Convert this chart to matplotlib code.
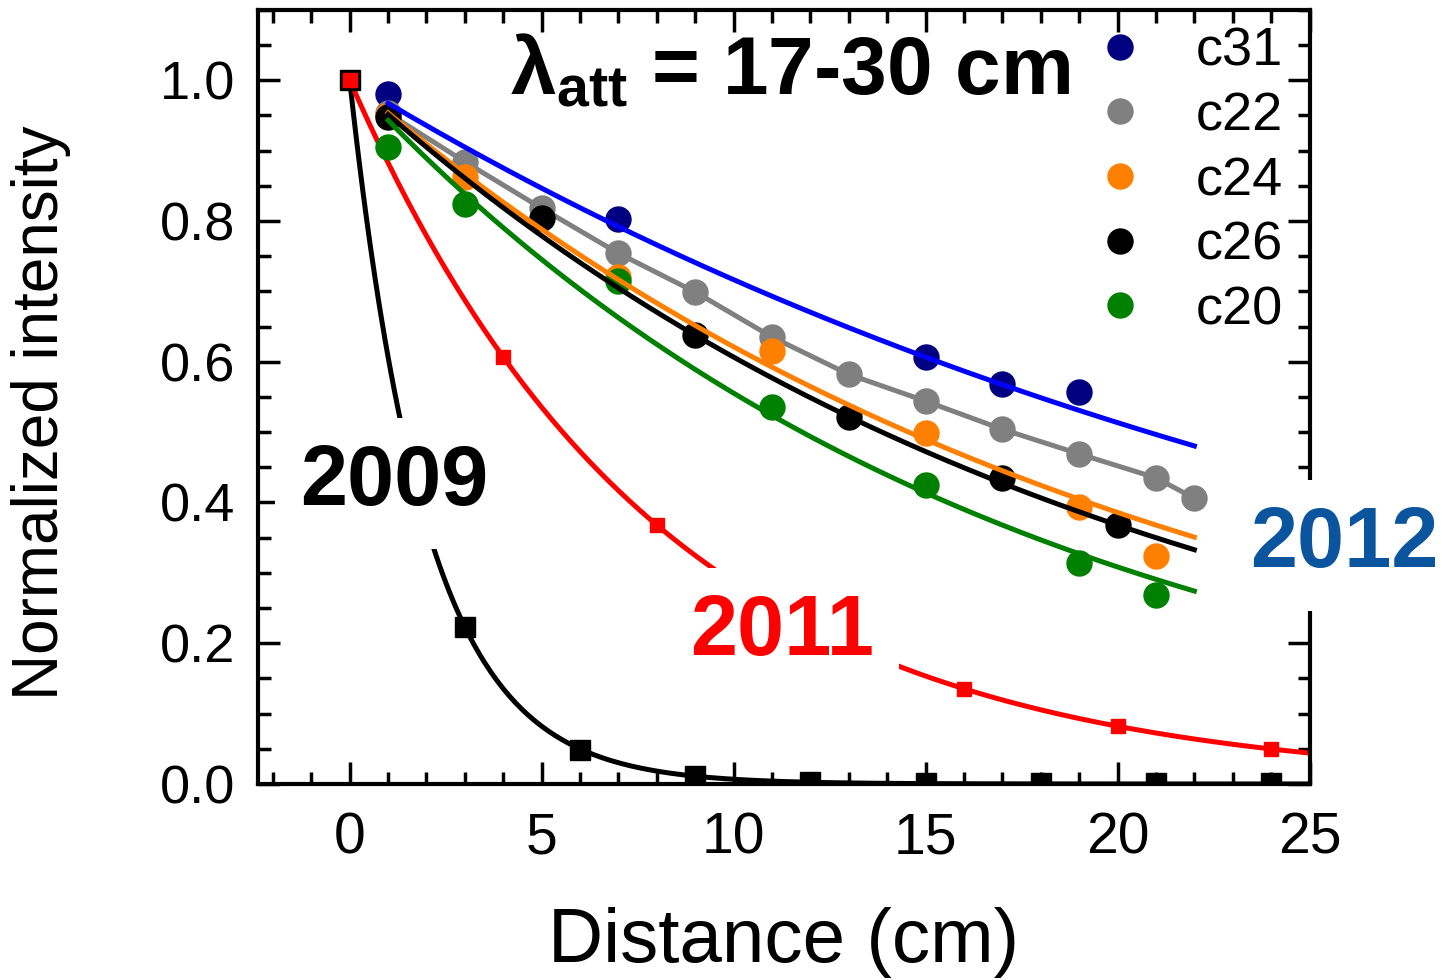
import numpy as np
import matplotlib
matplotlib.use("Agg")
import matplotlib.pyplot as plt
from matplotlib.ticker import MultipleLocator

plt.rcParams["font.family"] = ["Liberation Sans", "DejaVu Sans"]
plt.rcParams["mathtext.fontset"] = "custom"
plt.rcParams["mathtext.rm"] = "Liberation Sans"
plt.rcParams["mathtext.bf"] = "Liberation Sans:bold"

# 2009 and 2011 measurements (squares)
x_2009 = [0, 3, 6, 9, 12, 15, 18, 21, 24]
y_2009 = [1.0, 0.223, 0.049, 0.011, 0.003, 0.002, 0.001, 0.001, 0.001]
x_2011 = [0, 4, 8, 12, 16, 20, 24]
y_2011 = [1.0, 0.607, 0.368, 0.223, 0.135, 0.082, 0.050]

# 2012 samples (circles)
x_c31 = [1, 7, 15, 17, 19]
y_c31 = [0.981, 0.803, 0.607, 0.568, 0.557]
x_c22 = [1, 3, 5, 7, 9, 11, 13, 15, 17, 19, 21, 22]
y_c22 = [0.953, 0.884, 0.818, 0.754, 0.699, 0.635, 0.582, 0.544, 0.504, 0.469, 0.435, 0.406]
x_c24 = [1, 3, 7, 11, 15, 19, 21]
y_c24 = [0.950, 0.862, 0.720, 0.615, 0.499, 0.393, 0.324]
x_c26 = [1, 5, 9, 13, 17, 20]
y_c26 = [0.947, 0.804, 0.638, 0.521, 0.435, 0.368]
x_c20 = [1, 3, 7, 11, 15, 19, 21]
y_c20 = [0.905, 0.824, 0.714, 0.535, 0.425, 0.314, 0.268]

# attenuation lengths of the exponential fits (cm)
lam_2009 = 2.0
lam_2011 = 8.0
lam_c31 = 30.0
lam_c24 = 21.0
lam_c26 = 20.0
lam_c20 = 17.0

fig = plt.figure(figsize=(14.47, 9.8), dpi=100)
ax = fig.add_axes([0.178, 0.2, 0.727, 0.79])

LW = 3.6
MS = 18

# old campaigns
xf = np.linspace(0, 25, 300)
ax.plot(xf, np.exp(-xf / lam_2009), color="black", lw=LW, zorder=2)
ax.plot(x_2009, y_2009, ls="none", marker="s", ms=15, color="black", zorder=3)
ax.plot(xf, np.exp(-xf / lam_2011), color="red", lw=LW, zorder=2)
ax.plot(x_2011, y_2011, ls="none", marker="s", ms=10, color="red", zorder=3)

# 2012
xs = np.linspace(1, 22, 200)
ax.plot(x_c31, y_c31, ls="none", marker="o", ms=MS, color="#000080", zorder=3)
ax.plot(x_c22, y_c22, marker="o", ms=MS, lw=LW, color="#808080", zorder=3)
ax.plot(x_c24, y_c24, ls="none", marker="o", ms=MS, color="#ff8000", zorder=3)
ax.plot(x_c26, y_c26, ls="none", marker="o", ms=MS, color="black", zorder=3)
ax.plot(x_c20, y_c20, ls="none", marker="o", ms=MS, color="#008000", zorder=3)
ax.plot(xs, np.exp(-xs / lam_c31), color="#0000ff", lw=LW, zorder=4)
ax.plot(xs, np.exp(-xs / lam_c24), color="#ff8000", lw=LW, zorder=4)
ax.plot(xs, np.exp(-xs / lam_c26), color="black", lw=LW, zorder=4)
ax.plot(xs, np.exp(-xs / lam_c20), color="#008000", lw=LW, zorder=4)

# legend (markers only)
handles = []
for c, lab in [("#000080", "c31"), ("#808080", "c22"), ("#ff8000", "c24"),
               ("black", "c26"), ("#008000", "c20")]:
    h, = ax.plot([], [], ls="none", marker="o", ms=MS, color=c, label=lab)
    handles.append(h)
ax.legend(handles=handles, loc="upper right", bbox_to_anchor=(1.006, 1.02),
          frameon=False, fontsize=39, handlelength=0.6, handletextpad=1.1,
          labelspacing=0.27, borderaxespad=0.2)

ax.set_xlim(-2.4, 25)
ax.set_ylim(0, 1.1)
ax.xaxis.set_major_locator(MultipleLocator(5))
ax.xaxis.set_minor_locator(MultipleLocator(1))
ax.yaxis.set_major_locator(MultipleLocator(0.2))
ax.yaxis.set_minor_locator(MultipleLocator(0.05))
ax.yaxis.set_major_formatter(matplotlib.ticker.FormatStrFormatter("%.1f"))
ax.tick_params(which="both", direction="in", top=True, right=True, width=2.5)
ax.tick_params(which="major", length=16)
ax.tick_params(which="minor", length=9)
ax.tick_params(axis="x", which="major", labelsize=41, pad=20)
ax.tick_params(axis="y", which="major", labelsize=39, pad=16)
for s in ax.spines.values():
    s.set_linewidth(3)

ax.set_xlabel("Distance (cm)", fontsize=55, labelpad=30)
ax.set_ylabel("Normalized intensity", fontsize=46)
ax.yaxis.set_label_coords(-0.177, 0.48)

box = dict(boxstyle="square,pad=0.3", fc="white", ec="none")
ax.text(1.17, 0.396, "2009", fontsize=61, fontweight="bold", color="black",
        ha="center", va="baseline", bbox=box, zorder=6)
ax.text(11.25, 0.183, "2011", fontsize=61, fontweight="bold", color="red",
        ha="center", va="baseline", bbox=box, zorder=6)
ax.text(25.91, 0.308, "2012", fontsize=61, fontweight="bold", color="#0b559f",
        ha="center", va="baseline", bbox=box, zorder=6, clip_on=False)
ax.text(11.46, 0.979, r"$\mathbf{λ_{att}}$ = 17-30 cm", fontsize=59,
        fontweight="bold", ha="center", va="baseline", zorder=6)

fig.savefig("out.png", dpi=100)
